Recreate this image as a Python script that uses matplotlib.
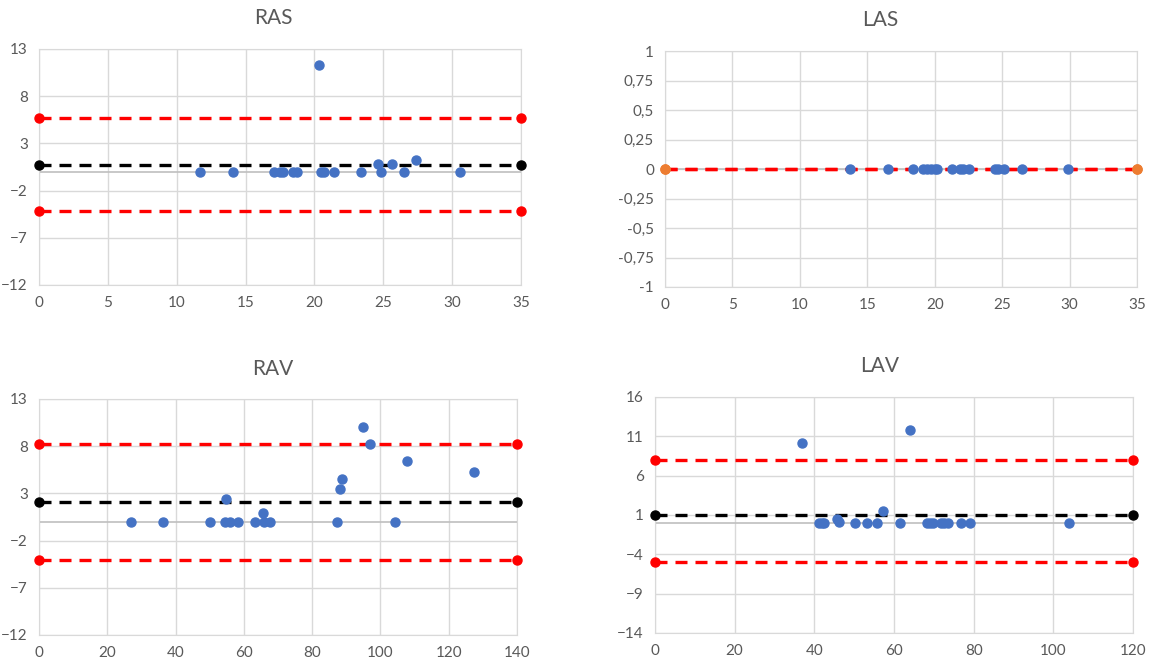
import matplotlib
matplotlib.use("Agg")
import matplotlib.pyplot as plt
from matplotlib.ticker import FuncFormatter

plt.rcParams["font.family"] = ["Lato", "DejaVu Sans"]

# ---- data ----
ras_x = [11.7, 14.1, 17.1, 17.5, 17.7, 18.45, 18.7, 20.35, 20.45, 20.7, 21.4,
         23.4, 24.6, 24.8, 25.6, 26.5, 27.4, 30.6]
ras_y = [0, 0, 0, 0, 0, 0, 0, 11.3, 0, 0, 0, 0, 0.85, 0, 0.8, 0, 1.2, 0]
ras_mean, ras_upper, ras_lower = 0.73, 5.65, -4.2

las_x = [13.7, 16.5, 18.4, 19.15, 19.45, 19.75, 20.0, 20.15, 21.25, 21.9, 22.1,
         22.55, 24.45, 24.7, 25.15, 26.5, 29.9]
las_y = [0] * len(las_x)
las_mean, las_upper, las_lower = 0, 0, 0

rav_x = [27.0, 36.3, 50.2, 54.4, 54.7, 56.0, 58.2, 63.2, 65.7, 65.9, 67.8,
         87.4, 88.2, 88.8, 95.0, 97.0, 104.2, 107.9, 127.4]
rav_y = [0, 0, 0, 0, 2.45, 0, 0, 0, 0.9, 0, 0,
         0, 3.5, 4.5, 10.0, 8.2, 0, 6.4, 5.25]
rav_mean, rav_upper, rav_lower = 2.07, 8.26, -4.1

lav_x = [37.0, 41.1, 41.8, 42.5, 45.6, 46.2, 50.2, 53.1, 55.85, 57.3, 61.6,
         64.1, 68.4, 69.1, 69.9, 71.9, 72.6, 73.5, 76.7, 79.2, 103.9]
lav_y = [10.1, 0, 0, 0, 0.55, 0.1, 0, 0, 0, 1.45, 0,
         11.8, 0, 0, 0, 0, 0, 0, 0, 0, 0]
lav_mean, lav_upper, lav_lower = 1.0, 8.0, -5.0

W, H = 1150, 661
TXT = "#595959"
GRID = "#d9d9d9"
BLUE = "#4472c4"


def comma_fmt(v, pos):
    s = f"{v:g}"
    return s.replace(".", ",")


def panel(rect, title, title_xy, x, y, xmax, xstep, ylim, ystep,
          mean, upper, lower, end_color="red", mean_color="black", yfmt=None):
    left, top, right, bottom = rect
    ax = fig.add_axes([left / W, 1 - bottom / H, (right - left) / W, (bottom - top) / H])
    ax.set_xlim(0, xmax)
    ax.set_ylim(*ylim)
    ax.set_xticks(range(0, xmax + 1, xstep))
    yt = []
    v = ylim[0]
    while v <= ylim[1] + 1e-9:
        yt.append(v)
        v += ystep
    ax.set_yticks(yt)
    if yfmt:
        ax.yaxis.set_major_formatter(FuncFormatter(yfmt))
    ax.grid(True, color=GRID, lw=1)
    ax.set_axisbelow(True)
    for s in ax.spines.values():
        s.set_color(GRID)
    ax.tick_params(length=0, labelsize=11, colors=TXT, pad=8)
    ax.axhline(0, color="#bfbfbf", lw=1.2, zorder=1)
    ax.axvline(0, color="#bfbfbf", lw=1.2, zorder=1)

    dash = dict(lw=2.4, dashes=(3.6, 2.4), zorder=2)
    ax.plot([0, xmax], [upper, upper], color="red", **dash)
    ax.plot([0, xmax], [lower, lower], color="red", **dash)
    if mean_color:
        ax.plot([0, xmax], [mean, mean], color=mean_color, **dash)
        ax.plot([0, xmax], [mean, mean], ls="none", marker="o", ms=6.5,
                color=mean_color, clip_on=False, zorder=4)
    ax.plot([0, xmax, 0, xmax], [upper, upper, lower, lower], ls="none",
            marker="o", ms=6.5, color=end_color, clip_on=False, zorder=4)

    ax.plot(x, y, ls="none", marker="o", ms=6.5, color=BLUE, zorder=3)
    fig.text(title_xy[0] / W, 1 - title_xy[1] / H, title, ha="center",
             va="center", fontsize=15, color=TXT)
    return ax


fig = plt.figure(figsize=(W / 100, H / 100), dpi=100)

panel((39, 49, 521, 285), "RAS", (273, 18), ras_x, ras_y, 35, 5,
      (-12, 13), 5, ras_mean, ras_upper, ras_lower)
panel((665, 51, 1137, 287), "LAS", (880, 20), las_x, las_y, 35, 5,
      (-1, 1), 0.25, las_mean, las_upper, las_lower,
      end_color="#ed7d31", mean_color=None, yfmt=comma_fmt)
panel((39, 399, 517, 635), "RAV", (273, 369), rav_x, rav_y, 140, 20,
      (-12, 13), 5, rav_mean, rav_upper, rav_lower)
panel((655, 397, 1133, 633), "LAV", (880, 366), lav_x, lav_y, 120, 20,
      (-14, 16), 5, lav_mean, lav_upper, lav_lower)

fig.savefig("out.png", dpi=100)
